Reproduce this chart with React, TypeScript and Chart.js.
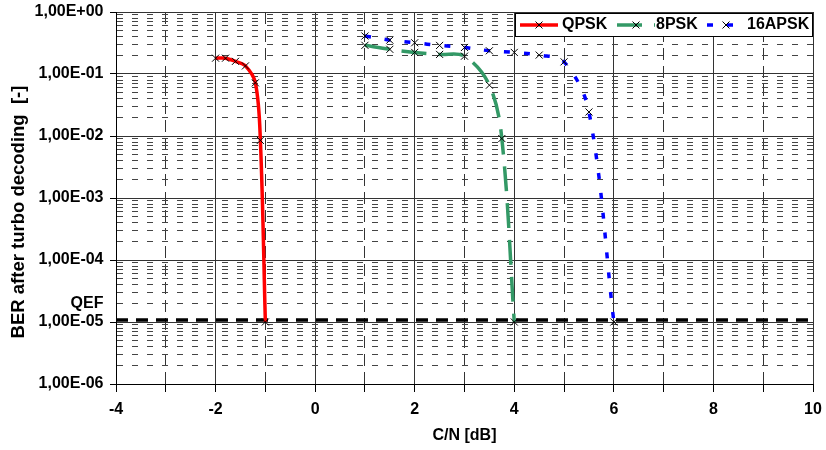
import { useEffect, useRef } from 'react';
import { Chart, registerables } from 'chart.js';

Chart.register(...registerables);

// ---- data ----
const qpskCN = [-2.0, -1.8, -1.6, -1.4, -1.2, -1.1, -1.0];
const qpskBER = [0.18, 0.18, 0.16, 0.135, 0.072, 0.0085, 1e-5];

const psk8CN = [1.0, 1.5, 2.0, 2.5, 3.0, 3.5, 3.75, 4.0];
const psk8BER = [0.29, 0.25, 0.223, 0.207, 0.194, 0.066, 0.0091, 1e-5];

const apsk16CN = [1.0, 1.5, 2.0, 2.5, 3.0, 3.5, 4.0, 4.5, 5.0, 5.5, 6.0];
const apsk16BER = [0.41, 0.352, 0.319, 0.289, 0.268, 0.237, 0.223, 0.202, 0.157, 0.0244, 1e-5];

const qefCN = [-4, 10];
const qefBER = [1.08e-5, 1.08e-5];

const seriesNames = ['QPSK', '8PSK', '16APSK'];
const seriesColors = ['#FF0000', '#339966', '#0000FF'];

const xMin = -4;
const xMax = 10;
const yDecadeExponents = [-6, -5, -4, -3, -2, -1, 0];
const yMinorMultipliers = [2, 3, 4, 5, 6, 7, 8, 9];
const qefLabelValue = 2e-5;
const qefLabel = 'QEF';

const xTitle = 'C/N [dB]';
const yTitle = 'BER after turbo decoding  [-]';

const FONT = '"Liberation Sans", Arial, Helvetica, sans-serif';

const yTickValues: number[] = [];
yDecadeExponents.forEach((e) => {
  yTickValues.push(Math.pow(10, e));
  if (e < 0) yMinorMultipliers.forEach((m) => yTickValues.push(m * Math.pow(10, e)));
});
yTickValues.sort((a, b) => a - b);

const isDecade = (v: number) => {
  const l = Math.log10(v);
  return Math.abs(l - Math.round(l)) < 1e-9;
};

const toXY = (xs: number[], ys: number[]) => xs.map((x, i) => ({ x, y: ys[i] }));

const decadeLabel = (v: number) => {
  const e = Math.round(Math.log10(v));
  const sign = e < 0 ? '-' : '+';
  const a = Math.abs(e);
  return `1,00E${sign}${a < 10 ? '0' + a : a}`;
};

const overlayPlugin = {
  id: 'overlay',
  afterDraw(chart: any) {
    const ctx = chart.ctx as CanvasRenderingContext2D;
    // y title
    ctx.save();
    ctx.translate(18.5, 212);
    ctx.rotate(-Math.PI / 2);
    ctx.font = `bold 18.5px ${FONT}`;
    ctx.fillStyle = '#000';
    ctx.textAlign = 'center';
    ctx.textBaseline = 'middle';
    ctx.fillText(yTitle, 0, 0);
    ctx.restore();

    // legend
    ctx.save();
    ctx.fillStyle = '#fff';
    ctx.fillRect(515.5, 13.5, 297, 23);
    ctx.strokeStyle = '#000';
    ctx.lineWidth = 1;
    ctx.setLineDash([]);
    ctx.strokeRect(515.5, 13.5, 297, 23);
    const lineStarts = [520, 617, 707];
    const textStarts = [562, 656, 747];
    const cy = 25;
    seriesNames.forEach((name, i) => {
      const ds = chart.data.datasets[i];
      ctx.save();
      ctx.strokeStyle = ds.borderColor;
      ctx.lineWidth = ds.borderWidth;
      ctx.setLineDash(ds.borderDash || []);
      ctx.beginPath();
      ctx.moveTo(lineStarts[i], cy);
      ctx.lineTo(lineStarts[i] + 38, cy);
      ctx.stroke();
      ctx.restore();
      const mx = lineStarts[i] + 19;
      ctx.strokeStyle = '#000';
      ctx.lineWidth = 1;
      ctx.setLineDash([]);
      ctx.beginPath();
      ctx.moveTo(mx - 3.5, cy - 3.5);
      ctx.lineTo(mx + 3.5, cy + 3.5);
      ctx.moveTo(mx - 3.5, cy + 3.5);
      ctx.lineTo(mx + 3.5, cy - 3.5);
      ctx.stroke();
      ctx.fillStyle = '#000';
      ctx.font = `bold 16px ${FONT}`;
      ctx.textAlign = 'left';
      ctx.textBaseline = 'middle';
      ctx.fillText(name, textStarts[i], cy);
    });
    ctx.restore();
  },
};

export default function App() {
  const ref = useRef<HTMLCanvasElement | null>(null);

  useEffect(() => {
    if (!ref.current) return;
    const marker = {
      pointStyle: 'crossRot' as const,
      pointRadius: 5,
      pointBorderColor: '#000',
      pointBackgroundColor: '#000',
      pointBorderWidth: 1,
      pointHoverRadius: 5,
    };
    const chart = new Chart(ref.current, {
      type: 'line',
      data: {
        datasets: [
          {
            label: seriesNames[0],
            data: toXY(qpskCN, qpskBER),
            borderColor: seriesColors[0],
            borderWidth: 3.5,
            tension: 0.35,
            fill: false,
            ...marker,
          },
          {
            label: seriesNames[1],
            data: toXY(psk8CN, psk8BER),
            borderColor: seriesColors[1],
            borderWidth: 3.5,
            borderDash: [25, 12],
            tension: 0.35,
            fill: false,
            ...marker,
          },
          {
            label: seriesNames[2],
            data: toXY(apsk16CN, apsk16BER),
            borderColor: seriesColors[2],
            borderWidth: 3.5,
            borderDash: [6, 14],
            tension: 0.35,
            fill: false,
            ...marker,
          },
          {
            label: qefLabel,
            data: toXY(qefCN, qefBER),
            borderColor: '#000',
            borderWidth: 3.5,
            borderDash: [12, 8],
            pointRadius: 0,
            tension: 0,
            fill: false,
          },
        ],
      },
      options: {
        animation: false,
        responsive: false,
        devicePixelRatio: 1,
        parsing: false as any,
        layout: { padding: { top: 12, right: 13, bottom: 0, left: 0 } },
        plugins: {
          legend: { display: false },
          tooltip: { enabled: false },
        },
        scales: {
          x: {
            type: 'linear',
            min: xMin,
            max: xMax,
            afterFit: (s: any) => {
              s.height = 66;
              s.paddingLeft = 0;
              s.paddingRight = 0;
            },
            ticks: {
              stepSize: 1,
              autoSkip: false,
              maxRotation: 0,
              padding: 8,
              color: '#000',
              font: { family: FONT, size: 16, weight: 'bold' },
              callback: (v: any) => (Math.abs(Math.round(Number(v))) % 2 === 0 ? String(v) : ''),
            },
            grid: {
              color: '#333',
              lineWidth: 1,
              tickLength: 8,
              tickColor: '#000',
              tickWidth: 1,
            },
            border: {
              display: true,
              color: '#000',
              width: 1,
              dash: (c: any) => {
                if (!c.tick) return [];
                return Math.abs(Math.round(c.tick.value)) % 2 === 0 ? [] : [12, 6];
              },
            },
            title: {
              display: true,
              text: xTitle,
              color: '#000',
              font: { family: FONT, size: 16, weight: 'bold' },
              padding: { top: 0, bottom: 4.4 },
            },
          },
          y: {
            type: 'logarithmic',
            min: 1e-6,
            max: 1,
            afterFit: (s: any) => {
              s.width = 116;
              s.paddingTop = 0;
              s.paddingBottom = 0;
            },
            afterBuildTicks: (s: any) => {
              s.ticks = yTickValues.map((v) => ({ value: v }));
            },
            ticks: {
              autoSkip: false,
              padding: 6.5,
              color: '#000',
              font: { family: FONT, size: 16, weight: 'bold' },
              callback: (v: any) => {
                const n = Number(v);
                if (isDecade(n)) return decadeLabel(n);
                if (Math.abs(n - qefLabelValue) / qefLabelValue < 1e-6) return qefLabel;
                return '';
              },
            },
            grid: {
              color: (c: any) => (c.tick && isDecade(c.tick.value) ? '#333' : '#444'),
              lineWidth: 1,
              tickLength: 6,
              tickWidth: 1,
              tickColor: (c: any) => (c.tick && isDecade(c.tick.value) ? '#000' : 'rgba(0,0,0,0)'),
            },
            border: {
              display: true,
              color: '#000',
              width: 1,
              dash: (c: any) => {
                if (!c.tick) return [];
                return isDecade(c.tick.value) ? [] : [6, 9];
              },
            },
          },
        },
      },
      plugins: [overlayPlugin],
    });
    return () => chart.destroy();
  }, []);

  return (
    <div style={{ position: 'fixed', left: 0, top: 0, width: 826, height: 450, background: '#fff' }}>
      <canvas ref={ref} width={826} height={450} style={{ display: 'block' }} />
    </div>
  );
}
